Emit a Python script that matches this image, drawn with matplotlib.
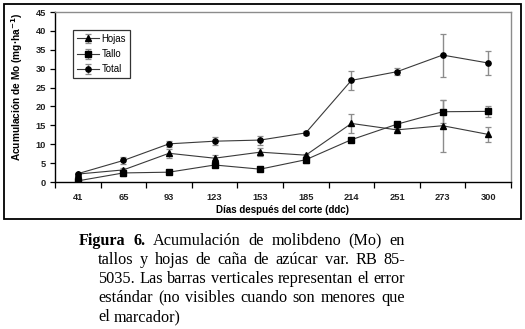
import matplotlib
matplotlib.use('Agg')
import matplotlib.pyplot as plt
from matplotlib.patches import Rectangle
from matplotlib.ticker import FixedLocator

dias = ['41', '65', '93', '123', '153', '185', '214', '251', '273', '300']

hojas = [2.1, 3.2, 7.6, 6.3, 7.9, 7.1, 15.5, 13.8, 14.9, 12.6]
hojas_err = [0.0, 0.4, 1.2, 0.8, 1.0, 0.4, 2.6, 0.4, 6.9, 2.0]

tallo = [0.3, 2.4, 2.6, 4.5, 3.4, 5.9, 11.2, 15.3, 18.6, 18.7]
tallo_err = [0.0, 0.8, 0.0, 0.0, 0.0, 0.9, 0.4, 0.4, 3.0, 1.4]

total = [2.2, 5.7, 10.1, 10.8, 11.1, 13.0, 26.9, 29.2, 33.6, 31.5]
total_err = [0.3, 0.9, 0.8, 1.0, 1.2, 0.5, 2.6, 1.0, 5.7, 3.2]

caption = [
    [('Figura', 'bold'), ('6.', 'bold'), ('Acumulación', 'normal'), ('de', 'normal'),
     ('molibdeno', 'normal'), ('(Mo)', 'normal'), ('en', 'normal')],
    'tallos y hojas de caña de azúcar var. RB 85-',
    '5035. Las barras verticales representan el error',
    'estándar (no visibles cuando son menores que',
    'el marcador)',
]

W, H = 525, 329
fig = plt.figure(figsize=(W / 100, H / 100), dpi=100)
fig.patch.set_facecolor('white')

# marco exterior del grafico
fig.patches.append(Rectangle((4 / W, 1 - 219 / H), 517 / W, 215 / H, transform=fig.transFigure,
                             fill=False, edgecolor='black', lw=1.3))

ax = fig.add_axes([55 / W, 1 - 182 / H, 456 / W, 170 / H])
x = list(range(len(dias)))

series = [('Hojas', hojas, hojas_err, '^', 4.5),
          ('Tallo', tallo, tallo_err, 's', 4.2),
          ('Total', total, total_err, 'o', 3.8)]

for nombre, vals, err, mk, ms in series:
    linea, caps, barras = ax.errorbar(x, vals, yerr=err, color='#3a3a3a', lw=0.8, marker=mk,
                                      mfc='black', mec='black', ms=ms, ecolor='#8c8c8c',
                                      elinewidth=1.0, capsize=2.5, capthick=0.9, label=nombre)
    for c in caps:
        c.set_color('black')

ax.set_xlim(-0.5, len(dias) - 0.5)
ax.set_ylim(0, 45)
ax.set_yticks(range(0, 46, 5))
ax.set_xticks(x)
ax.set_xticklabels(dias)
ax.xaxis.set_minor_locator(FixedLocator([i - 0.5 for i in range(len(dias) + 1)]))
ax.tick_params(axis='x', which='major', length=0, pad=8)
ax.tick_params(axis='x', which='minor', length=4, width=0.9, direction='out')
ax.tick_params(axis='y', length=3.5, width=0.9, direction='out', pad=3)
for lab in ax.get_xticklabels() + ax.get_yticklabels():
    lab.set_fontfamily('Liberation Sans')
    lab.set_fontsize(6.7)
    lab.set_fontweight('bold')
    lab.set_color('#222222')

for s in ['left', 'bottom']:
    ax.spines[s].set_color('black')
    ax.spines[s].set_linewidth(1.0)
for s in ['top', 'right']:
    ax.spines[s].set_color('#8c8c8c')
    ax.spines[s].set_linewidth(1.0)

ax.set_ylabel('Acumulación de Mo (mg·ha$^{\\mathbf{-1}}$)', fontfamily='Liberation Sans',
              fontsize=7.3, fontweight='bold')
ax.yaxis.set_label_coords(-30 / 456, 0.56)
ax.set_xlabel('Días después del corte (ddc)', fontfamily='Liberation Sans',
              fontsize=7, fontweight='bold')
ax.xaxis.set_label_coords(0.5, -23 / 170)

leg = ax.legend(loc='upper left', bbox_to_anchor=(18 / 456, 152 / 170), borderaxespad=0,
                fancybox=False, edgecolor='black', handlelength=2.3, handletextpad=0.25,
                labelspacing=0.55, borderpad=0.4,
                prop={'family': 'Liberation Sans', 'size': 6.9})
leg.get_frame().set_linewidth(0.9)

# pie de figura justificado
renderer = fig.canvas.get_renderer()
fuente = dict(family='Liberation Serif', size=11.7)


def ancho(palabra, peso):
    t = fig.text(0, 0, palabra, fontweight=peso, **fuente)
    w = t.get_window_extent(renderer).width
    t.remove()
    return w


x_der = 405
for i, linea in enumerate(caption):
    if isinstance(linea, str):
        palabras = [(p, 'normal') for p in linea.split()]
    else:
        palabras = linea
    x0 = 79 if i == 0 else 98
    base = 245 + 19 * i
    anchos = [ancho(p, w) for p, w in palabras]
    if i < len(caption) - 1:
        hueco = (x_der - x0 - sum(anchos)) / (len(palabras) - 1)
    else:
        hueco = ancho('a a', 'normal') - 2 * ancho('a', 'normal')
    xp = x0
    for (p, w), a in zip(palabras, anchos):
        fig.text(xp / W, 1 - base / H, p, fontweight=w, va='baseline', ha='left', **fuente)
        xp += a + hueco

fig.savefig('out.png', dpi=100)
